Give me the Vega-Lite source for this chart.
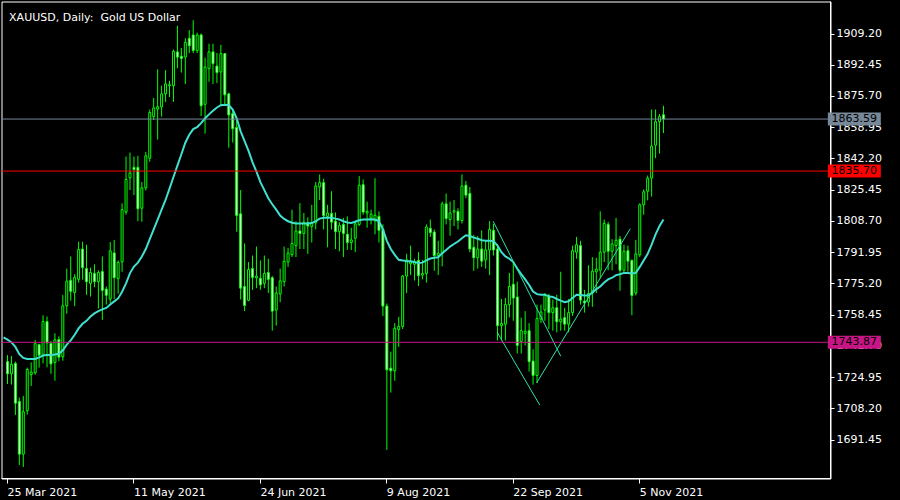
{
  "$schema": "https://vega.github.io/schema/vega-lite/v6.json",
  "width": 829,
  "height": 477,
  "autosize": {"type": "none"},
  "padding": {"left": 1.5, "top": 1.5, "right": 69.5, "bottom": 21.5},
  "background": "#000000",
  "config": {
    "font": "DejaVu Sans",
    "view": {"stroke": "#ffffff", "strokeWidth": 1, "fill": "#000000"},
    "axis": {"labelOverlap": false}
  },
  "datasets": {
    "candles": [
      {"i":0,"o":1733.5,"h":1737.0,"l":1721.5,"c":1727.0},
      {"i":1,"o":1727.0,"h":1736.5,"l":1721.2,"c":1732.1},
      {"i":2,"o":1732.6,"h":1733.5,"l":1704.9,"c":1711.2},
      {"i":3,"o":1712.1,"h":1714.2,"l":1678.1,"c":1683.9},
      {"i":4,"o":1683.9,"h":1715.1,"l":1677.0,"c":1706.7},
      {"i":5,"o":1707.2,"h":1730.3,"l":1705.1,"c":1729.3},
      {"i":6,"o":1726.5,"h":1733.1,"l":1720.5,"c":1727.9},
      {"i":7,"o":1727.5,"h":1745.2,"l":1726.5,"c":1743.1},
      {"i":8,"o":1742.6,"h":1743.1,"l":1730.3,"c":1737.0},
      {"i":9,"o":1737.0,"h":1758.4,"l":1732.6,"c":1755.0},
      {"i":10,"o":1755.0,"h":1757.7,"l":1730.5,"c":1743.5},
      {"i":11,"o":1743.3,"h":1744.5,"l":1727.0,"c":1732.3},
      {"i":12,"o":1733.0,"h":1748.7,"l":1723.3,"c":1745.2},
      {"i":13,"o":1745.4,"h":1747.1,"l":1733.7,"c":1735.9},
      {"i":14,"o":1736.1,"h":1769.2,"l":1734.0,"c":1763.4},
      {"i":15,"o":1763.4,"h":1783.4,"l":1759.2,"c":1776.6},
      {"i":16,"o":1777.1,"h":1789.9,"l":1766.2,"c":1771.2},
      {"i":17,"o":1770.6,"h":1780.4,"l":1763.3,"c":1778.7},
      {"i":18,"o":1777.6,"h":1797.8,"l":1775.9,"c":1793.6},
      {"i":19,"o":1793.9,"h":1797.8,"l":1777.5,"c":1783.9},
      {"i":20,"o":1783.4,"h":1796.2,"l":1769.4,"c":1776.4},
      {"i":21,"o":1775.5,"h":1783.9,"l":1768.4,"c":1781.3},
      {"i":22,"o":1780.8,"h":1785.7,"l":1773.4,"c":1776.4},
      {"i":23,"o":1776.4,"h":1782.5,"l":1762.0,"c":1781.3},
      {"i":24,"o":1781.8,"h":1789.9,"l":1755.9,"c":1771.7},
      {"i":25,"o":1772.4,"h":1773.8,"l":1764.1,"c":1769.1},
      {"i":26,"o":1767.1,"h":1797.6,"l":1764.7,"c":1792.9},
      {"i":27,"o":1791.8,"h":1798.8,"l":1767.1,"c":1778.5},
      {"i":28,"o":1778.0,"h":1787.8,"l":1769.9,"c":1786.7},
      {"i":29,"o":1787.0,"h":1818.4,"l":1781.7,"c":1815.0},
      {"i":30,"o":1813.7,"h":1843.5,"l":1812.3,"c":1831.2},
      {"i":31,"o":1832.1,"h":1845.6,"l":1825.5,"c":1834.7},
      {"i":32,"o":1837.7,"h":1843.5,"l":1822.8,"c":1836.5},
      {"i":33,"o":1837.7,"h":1843.9,"l":1808.8,"c":1815.5},
      {"i":34,"o":1815.8,"h":1829.8,"l":1808.5,"c":1826.7},
      {"i":35,"o":1826.7,"h":1846.0,"l":1825.3,"c":1843.9},
      {"i":36,"o":1842.6,"h":1868.7,"l":1840.7,"c":1867.1},
      {"i":37,"o":1864.9,"h":1874.9,"l":1863.1,"c":1869.6},
      {"i":38,"o":1869.0,"h":1890.3,"l":1852.6,"c":1870.2},
      {"i":39,"o":1870.1,"h":1881.5,"l":1864.9,"c":1877.1},
      {"i":40,"o":1877.1,"h":1889.8,"l":1872.8,"c":1882.4},
      {"i":41,"o":1881.5,"h":1884.1,"l":1875.4,"c":1882.0},
      {"i":42,"o":1881.5,"h":1900.8,"l":1872.8,"c":1899.9},
      {"i":43,"o":1899.6,"h":1913.6,"l":1890.8,"c":1896.8},
      {"i":44,"o":1897.3,"h":1901.7,"l":1888.5,"c":1896.1},
      {"i":45,"o":1896.8,"h":1906.9,"l":1882.4,"c":1904.7},
      {"i":46,"o":1906.9,"h":1911.3,"l":1899.0,"c":1902.9},
      {"i":47,"o":1908.7,"h":1916.6,"l":1899.0,"c":1900.4},
      {"i":48,"o":1900.4,"h":1909.9,"l":1899.0,"c":1908.7},
      {"i":49,"o":1908.7,"h":1909.5,"l":1865.2,"c":1870.7},
      {"i":50,"o":1871.5,"h":1896.5,"l":1855.8,"c":1891.5},
      {"i":51,"o":1890.6,"h":1904.0,"l":1883.6,"c":1899.6},
      {"i":52,"o":1899.6,"h":1904.0,"l":1882.4,"c":1893.3},
      {"i":53,"o":1892.0,"h":1899.0,"l":1882.9,"c":1888.5},
      {"i":54,"o":1888.9,"h":1903.4,"l":1871.0,"c":1898.7},
      {"i":55,"o":1898.7,"h":1899.0,"l":1870.7,"c":1876.6},
      {"i":56,"o":1877.1,"h":1877.7,"l":1848.2,"c":1865.8},
      {"i":57,"o":1866.5,"h":1868.0,"l":1851.0,"c":1858.4},
      {"i":58,"o":1859.1,"h":1864.0,"l":1803.2,"c":1811.9},
      {"i":59,"o":1812.8,"h":1825.5,"l":1766.8,"c":1772.9},
      {"i":60,"o":1773.8,"h":1796.9,"l":1760.6,"c":1763.6},
      {"i":61,"o":1766.4,"h":1786.9,"l":1765.9,"c":1782.9},
      {"i":62,"o":1783.4,"h":1790.4,"l":1772.0,"c":1778.7},
      {"i":63,"o":1778.5,"h":1795.2,"l":1772.9,"c":1779.4},
      {"i":64,"o":1778.2,"h":1787.8,"l":1772.0,"c":1774.7},
      {"i":65,"o":1775.5,"h":1790.4,"l":1772.9,"c":1780.8},
      {"i":66,"o":1781.3,"h":1788.7,"l":1770.3,"c":1777.6},
      {"i":67,"o":1778.5,"h":1779.4,"l":1750.1,"c":1760.6},
      {"i":68,"o":1761.2,"h":1773.8,"l":1752.8,"c":1770.3},
      {"i":69,"o":1769.8,"h":1783.4,"l":1765.4,"c":1776.8},
      {"i":70,"o":1776.4,"h":1795.2,"l":1773.8,"c":1787.3},
      {"i":71,"o":1786.9,"h":1794.5,"l":1784.3,"c":1791.8},
      {"i":72,"o":1790.9,"h":1815.0,"l":1789.6,"c":1796.9},
      {"i":73,"o":1795.7,"h":1808.8,"l":1789.6,"c":1803.6},
      {"i":74,"o":1803.6,"h":1818.5,"l":1793.9,"c":1802.2},
      {"i":75,"o":1802.2,"h":1813.2,"l":1793.9,"c":1808.3},
      {"i":76,"o":1808.0,"h":1810.9,"l":1791.3,"c":1806.2},
      {"i":77,"o":1806.0,"h":1817.6,"l":1797.4,"c":1808.0},
      {"i":78,"o":1807.9,"h":1829.8,"l":1804.4,"c":1827.7},
      {"i":79,"o":1827.2,"h":1833.9,"l":1820.2,"c":1829.5},
      {"i":80,"o":1829.5,"h":1831.6,"l":1804.4,"c":1811.8},
      {"i":81,"o":1811.4,"h":1817.6,"l":1794.8,"c":1813.2},
      {"i":82,"o":1812.9,"h":1824.9,"l":1804.4,"c":1808.3},
      {"i":83,"o":1808.8,"h":1813.5,"l":1793.9,"c":1803.2},
      {"i":84,"o":1803.2,"h":1808.3,"l":1792.7,"c":1806.5},
      {"i":85,"o":1807.1,"h":1810.6,"l":1789.6,"c":1802.2},
      {"i":86,"o":1801.8,"h":1811.4,"l":1793.4,"c":1797.4},
      {"i":87,"o":1797.4,"h":1805.3,"l":1793.4,"c":1798.8},
      {"i":88,"o":1799.7,"h":1809.2,"l":1792.2,"c":1807.4},
      {"i":89,"o":1807.1,"h":1833.0,"l":1806.2,"c":1828.1},
      {"i":90,"o":1828.4,"h":1831.2,"l":1812.3,"c":1813.7},
      {"i":91,"o":1813.2,"h":1819.3,"l":1805.3,"c":1814.1},
      {"i":92,"o":1810.6,"h":1815.0,"l":1807.1,"c":1812.7},
      {"i":93,"o":1809.0,"h":1831.9,"l":1801.8,"c":1812.0},
      {"i":94,"o":1811.4,"h":1814.1,"l":1797.4,"c":1803.9},
      {"i":95,"o":1804.4,"h":1807.1,"l":1758.0,"c":1763.3},
      {"i":96,"o":1763.3,"h":1764.7,"l":1686.2,"c":1729.1},
      {"i":97,"o":1730.0,"h":1738.9,"l":1716.9,"c":1728.6},
      {"i":98,"o":1728.6,"h":1754.2,"l":1723.3,"c":1751.4},
      {"i":99,"o":1750.7,"h":1757.6,"l":1741.4,"c":1752.4},
      {"i":100,"o":1752.4,"h":1779.9,"l":1751.0,"c":1779.4},
      {"i":101,"o":1779.4,"h":1791.3,"l":1770.3,"c":1788.1},
      {"i":102,"o":1786.0,"h":1795.7,"l":1779.9,"c":1786.9},
      {"i":103,"o":1785.7,"h":1788.7,"l":1777.0,"c":1786.9},
      {"i":104,"o":1787.8,"h":1792.2,"l":1774.1,"c":1779.6},
      {"i":105,"o":1779.9,"h":1788.1,"l":1777.6,"c":1780.8},
      {"i":106,"o":1780.8,"h":1807.1,"l":1775.9,"c":1805.7},
      {"i":107,"o":1805.0,"h":1809.7,"l":1800.4,"c":1802.7},
      {"i":108,"o":1803.0,"h":1804.4,"l":1782.2,"c":1790.4},
      {"i":109,"o":1790.4,"h":1798.3,"l":1779.9,"c":1791.6},
      {"i":110,"o":1791.6,"h":1819.3,"l":1784.6,"c":1818.1},
      {"i":111,"o":1818.1,"h":1823.7,"l":1807.1,"c":1810.2},
      {"i":112,"o":1809.7,"h":1819.3,"l":1801.0,"c":1813.2},
      {"i":113,"o":1813.7,"h":1820.2,"l":1806.2,"c":1814.4},
      {"i":114,"o":1814.1,"h":1815.8,"l":1804.4,"c":1809.2},
      {"i":115,"o":1809.2,"h":1833.9,"l":1807.6,"c":1827.7},
      {"i":116,"o":1828.1,"h":1830.4,"l":1821.1,"c":1822.8},
      {"i":117,"o":1823.7,"h":1827.2,"l":1792.2,"c":1793.9},
      {"i":118,"o":1794.8,"h":1801.5,"l":1782.2,"c":1789.2},
      {"i":119,"o":1789.2,"h":1800.9,"l":1783.4,"c":1793.9},
      {"i":120,"o":1793.9,"h":1803.9,"l":1784.3,"c":1787.4},
      {"i":121,"o":1788.1,"h":1798.6,"l":1783.4,"c":1793.4},
      {"i":122,"o":1793.4,"h":1808.8,"l":1779.9,"c":1804.4},
      {"i":123,"o":1803.9,"h":1807.4,"l":1790.4,"c":1793.4},
      {"i":124,"o":1793.9,"h":1796.6,"l":1744.9,"c":1752.8},
      {"i":125,"o":1752.8,"h":1767.1,"l":1744.9,"c":1754.0},
      {"i":126,"o":1753.6,"h":1767.6,"l":1744.9,"c":1764.1},
      {"i":127,"o":1764.1,"h":1781.1,"l":1757.2,"c":1773.8},
      {"i":128,"o":1775.0,"h":1786.4,"l":1755.4,"c":1767.6},
      {"i":129,"o":1768.2,"h":1776.4,"l":1737.9,"c":1742.2},
      {"i":130,"o":1744.3,"h":1757.1,"l":1737.9,"c":1750.1},
      {"i":131,"o":1748.7,"h":1760.6,"l":1742.2,"c":1749.8},
      {"i":132,"o":1750.1,"h":1754.2,"l":1728.2,"c":1733.5},
      {"i":133,"o":1733.8,"h":1740.1,"l":1721.2,"c":1726.1},
      {"i":134,"o":1726.1,"h":1764.1,"l":1722.1,"c":1756.6},
      {"i":135,"o":1756.3,"h":1764.1,"l":1754.2,"c":1760.1},
      {"i":136,"o":1761.2,"h":1770.3,"l":1755.4,"c":1768.9},
      {"i":137,"o":1768.9,"h":1769.9,"l":1751.0,"c":1759.8},
      {"i":138,"o":1759.8,"h":1766.8,"l":1750.1,"c":1762.4},
      {"i":139,"o":1762.4,"h":1769.4,"l":1749.2,"c":1754.9},
      {"i":140,"o":1754.9,"h":1781.7,"l":1750.1,"c":1756.3},
      {"i":141,"o":1757.1,"h":1762.4,"l":1750.1,"c":1753.6},
      {"i":142,"o":1753.6,"h":1767.1,"l":1749.2,"c":1759.8},
      {"i":143,"o":1759.8,"h":1795.7,"l":1758.0,"c":1793.0},
      {"i":144,"o":1792.2,"h":1800.4,"l":1788.7,"c":1796.2},
      {"i":145,"o":1795.7,"h":1798.3,"l":1764.1,"c":1766.5},
      {"i":146,"o":1766.0,"h":1772.0,"l":1759.8,"c":1765.0},
      {"i":147,"o":1765.5,"h":1785.2,"l":1763.0,"c":1770.0},
      {"i":148,"o":1770.3,"h":1789.5,"l":1762.9,"c":1782.0},
      {"i":149,"o":1781.7,"h":1789.2,"l":1770.3,"c":1783.1},
      {"i":150,"o":1782.5,"h":1814.1,"l":1778.2,"c":1792.2},
      {"i":151,"o":1792.2,"h":1809.7,"l":1786.9,"c":1807.6},
      {"i":152,"o":1807.1,"h":1808.5,"l":1782.5,"c":1792.7},
      {"i":153,"o":1792.7,"h":1799.2,"l":1782.5,"c":1796.6},
      {"i":154,"o":1795.7,"h":1810.6,"l":1785.7,"c":1798.6},
      {"i":155,"o":1799.2,"h":1800.9,"l":1771.5,"c":1782.5},
      {"i":156,"o":1782.5,"h":1796.2,"l":1780.8,"c":1792.7},
      {"i":157,"o":1793.0,"h":1795.7,"l":1781.7,"c":1787.4},
      {"i":158,"o":1787.8,"h":1788.3,"l":1758.4,"c":1769.0},
      {"i":159,"o":1770.3,"h":1798.8,"l":1769.0,"c":1791.3},
      {"i":160,"o":1790.8,"h":1818.4,"l":1789.6,"c":1817.6},
      {"i":161,"o":1817.6,"h":1825.8,"l":1812.3,"c":1824.6},
      {"i":162,"o":1824.9,"h":1833.3,"l":1820.0,"c":1831.9},
      {"i":163,"o":1831.9,"h":1868.7,"l":1822.0,"c":1849.1},
      {"i":164,"o":1849.6,"h":1868.7,"l":1842.6,"c":1862.2},
      {"i":165,"o":1862.2,"h":1866.3,"l":1845.1,"c":1864.9},
      {"i":166,"o":1865.9,"h":1870.7,"l":1856.1,"c":1863.59}
    ],
    "ma": [
      {"i":-1,"ma":1746.5},{"i":0,"ma":1745.3},{"i":1,"ma":1743.8},{"i":2,"ma":1741.4},{"i":3,"ma":1737.5},{"i":4,"ma":1735.5},{"i":5,"ma":1734.9},{"i":6,"ma":1734.9},{"i":7,"ma":1734.9},{"i":8,"ma":1735.8},{"i":9,"ma":1736.8},{"i":10,"ma":1737.0},{"i":11,"ma":1737.0},{"i":12,"ma":1737.3},{"i":13,"ma":1737.7},{"i":14,"ma":1739.6},{"i":15,"ma":1742.6},{"i":16,"ma":1744.9},{"i":17,"ma":1747.9},{"i":18,"ma":1751.3},{"i":19,"ma":1753.8},{"i":20,"ma":1755.4},{"i":21,"ma":1757.7},{"i":22,"ma":1759.4},{"i":23,"ma":1760.6},{"i":24,"ma":1761.5},{"i":25,"ma":1762.3},{"i":26,"ma":1764.2},{"i":27,"ma":1765.8},{"i":28,"ma":1767.4},{"i":29,"ma":1771.0},{"i":30,"ma":1775.5},{"i":31,"ma":1781.0},{"i":32,"ma":1784.5},{"i":33,"ma":1786.6},{"i":34,"ma":1789.9},{"i":35,"ma":1793.9},{"i":36,"ma":1799.2},{"i":37,"ma":1804.4},{"i":38,"ma":1809.7},{"i":39,"ma":1815.0},{"i":40,"ma":1820.2},{"i":41,"ma":1826.3},{"i":42,"ma":1832.5},{"i":43,"ma":1838.6},{"i":44,"ma":1844.7},{"i":45,"ma":1850.9},{"i":46,"ma":1855.2},{"i":47,"ma":1858.2},{"i":48,"ma":1859.3},{"i":49,"ma":1861.4},{"i":50,"ma":1864.0},{"i":51,"ma":1866.1},{"i":52,"ma":1868.0},{"i":53,"ma":1869.8},{"i":54,"ma":1871.0},{"i":55,"ma":1871.3},{"i":56,"ma":1871.0},{"i":57,"ma":1868.7},{"i":58,"ma":1864.0},{"i":59,"ma":1857.0},{"i":60,"ma":1851.7},{"i":61,"ma":1846.5},{"i":62,"ma":1840.5},{"i":63,"ma":1835.4},{"i":64,"ma":1829.8},{"i":65,"ma":1825.5},{"i":66,"ma":1821.1},{"i":67,"ma":1817.9},{"i":68,"ma":1815.0},{"i":69,"ma":1811.8},{"i":70,"ma":1810.0},{"i":71,"ma":1808.8},{"i":72,"ma":1808.0},{"i":73,"ma":1807.6},{"i":74,"ma":1807.6},{"i":75,"ma":1807.6},{"i":76,"ma":1807.6},{"i":77,"ma":1807.8},{"i":78,"ma":1808.8},{"i":79,"ma":1810.2},{"i":80,"ma":1810.6},{"i":81,"ma":1810.6},{"i":82,"ma":1810.6},{"i":83,"ma":1810.2},{"i":84,"ma":1809.7},{"i":85,"ma":1808.8},{"i":86,"ma":1808.1},{"i":87,"ma":1807.9},{"i":88,"ma":1808.5},{"i":89,"ma":1809.3},{"i":90,"ma":1809.7},{"i":91,"ma":1809.7},{"i":92,"ma":1809.9},{"i":93,"ma":1809.7},{"i":94,"ma":1808.8},{"i":95,"ma":1804.4},{"i":96,"ma":1798.3},{"i":97,"ma":1793.9},{"i":98,"ma":1790.8},{"i":99,"ma":1788.1},{"i":100,"ma":1787.8},{"i":101,"ma":1787.4},{"i":102,"ma":1787.3},{"i":103,"ma":1786.9},{"i":104,"ma":1786.4},{"i":105,"ma":1786.6},{"i":106,"ma":1787.8},{"i":107,"ma":1788.8},{"i":108,"ma":1789.2},{"i":109,"ma":1789.5},{"i":110,"ma":1791.6},{"i":111,"ma":1793.4},{"i":112,"ma":1795.2},{"i":113,"ma":1796.6},{"i":114,"ma":1797.9},{"i":115,"ma":1799.7},{"i":116,"ma":1801.3},{"i":117,"ma":1800.9},{"i":118,"ma":1800.0},{"i":119,"ma":1799.4},{"i":120,"ma":1798.6},{"i":121,"ma":1798.3},{"i":122,"ma":1798.3},{"i":123,"ma":1798.1},{"i":124,"ma":1795.7},{"i":125,"ma":1792.2},{"i":126,"ma":1789.9},{"i":127,"ma":1788.7},{"i":128,"ma":1786.9},{"i":129,"ma":1783.4},{"i":130,"ma":1780.4},{"i":131,"ma":1777.6},{"i":132,"ma":1774.6},{"i":133,"ma":1771.1},{"i":134,"ma":1769.7},{"i":135,"ma":1769.4},{"i":136,"ma":1769.4},{"i":137,"ma":1768.5},{"i":138,"ma":1768.2},{"i":139,"ma":1767.1},{"i":140,"ma":1766.2},{"i":141,"ma":1765.4},{"i":142,"ma":1765.9},{"i":143,"ma":1767.6},{"i":144,"ma":1769.4},{"i":145,"ma":1769.2},{"i":146,"ma":1769.0},{"i":147,"ma":1769.0},{"i":148,"ma":1770.5},{"i":149,"ma":1772.4},{"i":150,"ma":1773.8},{"i":151,"ma":1775.9},{"i":152,"ma":1777.6},{"i":153,"ma":1778.5},{"i":154,"ma":1779.9},{"i":155,"ma":1780.4},{"i":156,"ma":1781.1},{"i":157,"ma":1781.1},{"i":158,"ma":1780.8},{"i":159,"ma":1781.1},{"i":160,"ma":1784.3},{"i":161,"ma":1787.8},{"i":162,"ma":1791.3},{"i":163,"ma":1796.2},{"i":164,"ma":1801.8},{"i":165,"ma":1806.2},{"i":166,"ma":1809.7}
    ],
    "trend": [
      {"line":"a","i":122.9,"p":1808.8},{"line":"a","i":140.0,"p":1736.4},
      {"line":"b","i":123.9,"p":1749.3},{"line":"b","i":134.7,"p":1710.2},
      {"line":"c","i":133.9,"p":1722.1},{"line":"c","i":157.6,"p":1804.8}
    ],
    "levels": [
      {"name":"bid","price":1863.59},
      {"name":"level1","price":1835.70},
      {"name":"level2","price":1743.87}
    ]
  },
  "layer": [
    {
      "data": {"name": "candles"},
      "mark": {"type": "rule", "color": "#00ff00", "strokeWidth": 1},
      "encoding": {
        "x": {"field": "i", "type": "quantitative", "title": null, "scale": {"domain": [-0.25, 207], "nice": false, "zero": false},
              "axis": {"orient": "bottom", "title": null, "grid": false, "zindex": 0, "translate": 0, "values": [0, 32, 64, 96, 128, 160], "tickCount": 50, "tickSize": 5, "labelPadding": 3, "labelAlign": "left", "labelFont": "DejaVu Sans", "labelFontSize": 11, "labelColor": "#ffffff", "domainColor": "#ffffff", "tickColor": "#ffffff", "labelOverlap": false, "labelFlush": false,
                       "labelExpr": "datum.value == 0 ? '25 Mar 2021' : datum.value == 32 ? '11 May 2021' : datum.value == 64 ? '24 Jun 2021' : datum.value == 96 ? '9 Aug 2021' : datum.value == 128 ? '22 Sep 2021' : datum.value == 160 ? '5 Nov 2021' : ''"}},
        "y": {"field": "l", "type": "quantitative", "title": null, "scale": {"domain": [1673.52, 1923.95], "nice": false, "zero": false},
              "axis": {"orient": "right", "title": null, "grid": false, "zindex": 0, "translate": 0, "values": [1691.45, 1708.2, 1724.95, 1741.7, 1758.45, 1775.2, 1791.95, 1808.7, 1825.45, 1842.2, 1858.95, 1875.7, 1892.45, 1909.2], "tickCount": 50, "format": ".2f", "tickSize": 4, "labelPadding": 2, "labelAlign": "left", "labelBaseline": "middle", "labelFont": "DejaVu Sans", "labelFontSize": 11, "labelColor": "#ffffff", "domainColor": "#ffffff", "tickColor": "#ffffff", "labelOverlap": false, "labelFlush": false}},
        "y2": {"field": "h"}
      }
    },
    {
      "data": {"name": "candles"},
      "mark": {"type": "bar", "width": 2, "stroke": "#00ff00", "strokeWidth": 1},
      "encoding": {
        "x": {"field": "i", "type": "quantitative", "scale": {"domain": [-0.25, 207], "nice": false, "zero": false}},
        "y": {"field": "o", "type": "quantitative", "scale": {"domain": [1673.52, 1923.95], "nice": false, "zero": false}},
        "y2": {"field": "c"},
        "fill": {"condition": {"test": "datum.c < datum.o", "value": "#ffffff"}, "value": "#000000"}
      }
    },
    {
      "data": {"name": "ma"},
      "mark": {"type": "line", "color": "#40e0d0", "strokeWidth": 2, "clip": true},
      "encoding": {
        "x": {"field": "i", "type": "quantitative", "scale": {"domain": [-0.25, 207], "nice": false, "zero": false}},
        "y": {"field": "ma", "type": "quantitative", "scale": {"domain": [1673.52, 1923.95], "nice": false, "zero": false}}
      }
    },
    {
      "data": {"name": "trend"},
      "mark": {"type": "line", "color": "#2de3a5", "strokeWidth": 1},
      "encoding": {
        "x": {"field": "i", "type": "quantitative", "scale": {"domain": [-0.25, 207], "nice": false, "zero": false}},
        "y": {"field": "p", "type": "quantitative", "scale": {"domain": [1673.52, 1923.95], "nice": false, "zero": false}},
        "detail": {"field": "line", "type": "nominal"}
      }
    },
    {
      "data": {"name": "levels"},
      "mark": {"type": "rule", "strokeWidth": 1},
      "encoding": {
        "y": {"field": "price", "type": "quantitative", "scale": {"domain": [1673.52, 1923.95], "nice": false, "zero": false}},
        "color": {"field": "name", "type": "nominal", "scale": {"domain": ["bid", "level1", "level2"], "range": ["#778899", "#ff0000", "#c71585"]}, "legend": null}
      }
    },
    {
      "data": {"name": "levels"},
      "mark": {"type": "bar", "height": 13},
      "encoding": {
        "x": {"datum": 207.6, "type": "quantitative", "scale": {"domain": [-0.25, 207], "nice": false, "zero": false}},
        "x2": {"datum": 221},
        "y": {"field": "price", "type": "quantitative", "scale": {"domain": [1673.52, 1923.95], "nice": false, "zero": false}},
        "color": {"field": "name", "type": "nominal", "scale": {"domain": ["bid", "level1", "level2"], "range": ["#778899", "#ff0000", "#c71585"]}, "legend": null}
      }
    },
    {
      "data": {"name": "levels"},
      "mark": {"type": "text", "align": "left", "baseline": "middle", "fontSize": 11, "font": "DejaVu Sans", "color": "#000000"},
      "encoding": {
        "x": {"datum": 208.5, "type": "quantitative", "scale": {"domain": [-0.25, 207], "nice": false, "zero": false}},
        "y": {"field": "price", "type": "quantitative", "scale": {"domain": [1673.52, 1923.95], "nice": false, "zero": false}},
        "text": {"field": "price", "type": "quantitative", "format": ".2f"}
      }
    },
    {
      "data": {"values": [{"label": "XAUUSD, Daily:\u00a0 Gold US Dollar"}]},
      "mark": {"type": "text", "align": "left", "baseline": "alphabetic", "fontSize": 11, "font": "DejaVu Sans", "color": "#ffffff"},
      "encoding": {
        "x": {"datum": 0.4, "type": "quantitative", "scale": {"domain": [-0.25, 207], "nice": false, "zero": false}},
        "y": {"datum": 1916.3, "type": "quantitative", "scale": {"domain": [1673.52, 1923.95], "nice": false, "zero": false}},
        "text": {"field": "label"}
      }
    }
  ]
}
